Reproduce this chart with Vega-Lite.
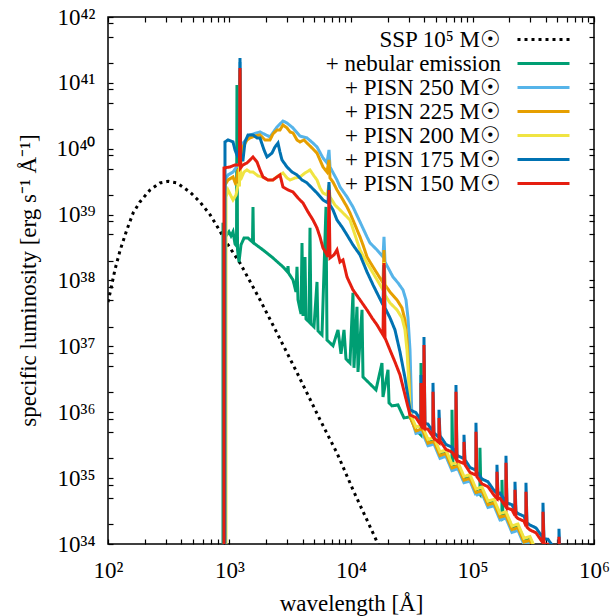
{
"$schema": "https://vega.github.io/schema/vega-lite/v6.json",
"autosize": {"type": "none"},
"padding": {"left": 108, "top": 17, "right": 21, "bottom": 72},
"width": 486,
"height": 527,
"background": "white",
"config": {
  "view": {"stroke": "black", "strokeWidth": 1.5},
  "font": "Liberation Serif",
  "axis": {"labelFont": "Liberation Serif", "labelFontSize": 23, "labelColor": "black", "titleFont": "Liberation Serif", "titleFontSize": 23, "titleFontWeight": "normal", "titleColor": "black", "grid": false, "domain": false, "ticks": true, "tickColor": "black", "tickWidth": 1.2, "tickOpacity": 1, "labelFlush": false, "labelOverlap": false, "labelBound": false},
  "line": {"strokeJoin": "miter", "strokeCap": "butt"}
},
"datasets": {
  "ssp": [{"x":100,"y":4.7e37},{"x":104,"y":6.5e37},{"x":114,"y":1.45e38},{"x":126,"y":2.9e38},{"x":143,"y":5.9e38},{"x":161,"y":1.06e39},{"x":183,"y":1.56e39},{"x":222,"y":2.37e39},{"x":268,"y":3.03e39},{"x":312,"y":3.2e39},{"x":370,"y":3.03e39},{"x":473,"y":2.2e39},{"x":571,"y":1.56e39},{"x":691,"y":1.0e39},{"x":804,"y":6.3e38},{"x":972,"y":3.47e38},{"x":1219,"y":1.85e38},{"x":1782,"y":5.1e37},{"x":2460,"y":1.6e37},{"x":3594,"y":4.0e36},{"x":5560,"y":7.7e35},{"x":7670,"y":2.4e35},{"x":10400,"y":6.6e34},{"x":16700,"y":1e34},{"x":20000,"y":5e33}],
  "neb": [{"x":884,"y":1e30},{"x":884,"y":7.5e38},{"x":935,"y":4.75e38},{"x":990,"y":5.5e38},{"x":1029,"y":4.75e38},{"x":1069,"y":5.5e38},{"x":1110,"y":3.59e38},{"x":1142,"y":3.35e38},{"x":1152,"y":9.3e40},{"x":1164,"y":2.91e38},{"x":1197,"y":1.91e38},{"x":1243,"y":3.47e38},{"x":1316,"y":4.4e38},{"x":1420,"y":4.4e38},{"x":1546,"y":3.85e38},{"x":1561,"y":1.31e39},{"x":1576,"y":3.72e38},{"x":1887,"y":2.91e38},{"x":2280,"y":2.2e38},{"x":2756,"y":1.61e38},{"x":3002,"y":1.35e38},{"x":3030,"y":1.66e38},{"x":3059,"y":1.3e38},{"x":3332,"y":1.02e38},{"x":3527,"y":6.7e37},{"x":3594,"y":1.61e38},{"x":3663,"y":5.08e37},{"x":3877,"y":3.11e37},{"x":3951,"y":3.72e38},{"x":4027,"y":2.9e37},{"x":4183,"y":2.28e38},{"x":4262,"y":2.61e37},{"x":4512,"y":2.35e37},{"x":4598,"y":6.3e38},{"x":4686,"y":2.19e37},{"x":4960,"y":1.98e37},{"x":5250,"y":9.5e37},{"x":5350,"y":1.72e37},{"x":5771,"y":1.49e37},{"x":6225,"y":1.31e39},{"x":6345,"y":1.25e37},{"x":6716,"y":1.13e37},{"x":7110,"y":1.02e37},{"x":7816,"y":1.78e37},{"x":8274,"y":7.7e36},{"x":8758,"y":1.78e37},{"x":9093,"y":6.46e36},{"x":9810,"y":5.6e36},{"x":10380,"y":6.5e37},{"x":10580,"y":4.72e36},{"x":11200,"y":4.0e37},{"x":11420,"y":4.1e36},{"x":12320,"y":3.58e37},{"x":12550,"y":3.44e36},{"x":13540,"y":2.99e36},{"x":16060,"y":2.19e36},{"x":17990,"y":5.6e36},{"x":18340,"y":1.71e36},{"x":20160,"y":4.4e36},{"x":20550,"y":1.39e36},{"x":21740,"y":1.25e36},{"x":24360,"y":1.29e36},{"x":27300,"y":8.2e35},{"x":30590,"y":8.5e35},{"x":34260,"y":5.4e35},{"x":37670,"y":4.5e35},{"x":37670,"y":5.6e36},{"x":38390,"y":5.6e35},{"x":43020,"y":3.52e35},{"x":48200,"y":3.64e35},{"x":54000,"y":2.3e35},{"x":60480,"y":2.38e35},{"x":67790,"y":1.51e35},{"x":67790,"y":1.09e36},{"x":69090,"y":1.45e35},{"x":75960,"y":1.56e35},{"x":85110,"y":9.9e34},{"x":95350,"y":1.02e35},{"x":106800,"y":6.5e34},{"x":115200,"y":5.6e34},{"x":115200,"y":2.88e35},{"x":117400,"y":5.4e34},{"x":119700,"y":6.7e34},{"x":134100,"y":4.2e34},{"x":150300,"y":4.4e34},{"x":168400,"y":2.77e34},{"x":174800,"y":2.58e34},{"x":174800,"y":9.4e34},{"x":178200,"y":2.5e34},{"x":188600,"y":2.86e34},{"x":211300,"y":1.82e34},{"x":236700,"y":1.88e34},{"x":265300,"y":1.19e34},{"x":297200,"y":1.23e34},{"x":333000,"y":7.8e33},{"x":373100,"y":8.1e33}],
  "p250": [{"x":918,"y":1e30},{"x":918,"y":3.36e39},{"x":972,"y":4.0e39},{"x":1069,"y":4.44e39},{"x":1175,"y":5.68e39},{"x":1208,"y":5.68e39},{"x":1220,"y":2.08e41},{"x":1232,"y":6.76e39},{"x":1291,"y":1.22e40},{"x":1475,"y":1.62e40},{"x":1782,"y":1.8e40},{"x":2154,"y":1.51e40},{"x":2460,"y":2.14e40},{"x":2756,"y":2.64e40},{"x":2973,"y":2.46e40},{"x":3331,"y":2.07e40},{"x":3804,"y":1.56e40},{"x":4344,"y":1.46e40},{"x":4867,"y":1.22e40},{"x":5250,"y":1.065e40},{"x":5883,"y":7.25e39},{"x":6345,"y":6.09e39},{"x":6590,"y":9.6e39},{"x":6716,"y":5.29e39},{"x":7669,"y":3.36e39},{"x":8117,"y":2.63e39},{"x":9268,"y":1.86e39},{"x":10380,"y":1.31e39},{"x":11860,"y":7.75e38},{"x":13540,"y":4.59e38},{"x":14330,"y":3.72e38},{"x":16370,"y":2.91e38},{"x":18340,"y":2.28e38},{"x":18690,"y":4.59e38},{"x":19050,"y":1.91e38},{"x":22160,"y":1.13e38},{"x":24360,"y":9.2e37},{"x":26780,"y":7.2e37},{"x":28350,"y":5.08e37},{"x":29440,"y":2.71e37},{"x":30590,"y":8.8e36},{"x":31170,"y":2.6e36},{"x":31760,"y":7.66e35},{"x":34260,"y":4.77e35},{"x":38390,"y":5.08e35},{"x":43020,"y":3.1e35},{"x":48200,"y":3.3e35},{"x":54000,"y":2.0e35},{"x":60480,"y":2.14e35},{"x":67790,"y":1.3e35},{"x":75960,"y":1.39e35},{"x":85110,"y":8.5e34},{"x":95350,"y":9.0e34},{"x":106800,"y":5.5e34},{"x":119700,"y":5.86e34},{"x":134100,"y":3.58e34},{"x":150300,"y":3.82e34},{"x":168400,"y":2.32e34},{"x":188600,"y":2.47e34},{"x":211300,"y":1.5e34},{"x":236700,"y":1.61e34},{"x":265300,"y":9.8e33},{"x":297200,"y":1.04e34},{"x":333000,"y":6.4e33},{"x":373100,"y":6.8e33}],
  "p225": [{"x":918,"y":1e30},{"x":918,"y":2.82e39},{"x":972,"y":3.36e39},{"x":1069,"y":3.73e39},{"x":1131,"y":2.82e39},{"x":1175,"y":4.77e39},{"x":1208,"y":4.77e39},{"x":1220,"y":1.57e41},{"x":1232,"y":5.68e39},{"x":1291,"y":1.065e40},{"x":1393,"y":1.36e40},{"x":1475,"y":1.46e40},{"x":1621,"y":1.56e40},{"x":1782,"y":1.62e40},{"x":1960,"y":1.36e40},{"x":2154,"y":1.36e40},{"x":2280,"y":1.68e40},{"x":2460,"y":1.93e40},{"x":2603,"y":1.93e40},{"x":2756,"y":2.3e40},{"x":2973,"y":2.07e40},{"x":3148,"y":1.8e40},{"x":3331,"y":1.74e40},{"x":3594,"y":1.36e40},{"x":3804,"y":1.27e40},{"x":4104,"y":1.36e40},{"x":4344,"y":1.22e40},{"x":4775,"y":1.03e40},{"x":5250,"y":8.6e39},{"x":5556,"y":6.76e39},{"x":5883,"y":5.29e39},{"x":6345,"y":4.44e39},{"x":6590,"y":6.76e39},{"x":6716,"y":3.6e39},{"x":7108,"y":3.13e39},{"x":7669,"y":2.37e39},{"x":8117,"y":1.99e39},{"x":8591,"y":1.67e39},{"x":9268,"y":1.31e39},{"x":9810,"y":1.06e39},{"x":10790,"y":6.98e38},{"x":11860,"y":4.59e38},{"x":12550,"y":3.47e38},{"x":13540,"y":2.28e38},{"x":14330,"y":1.91e38},{"x":15170,"y":1.61e38},{"x":16680,"y":1.22e38},{"x":18340,"y":9.2e37},{"x":18690,"y":2.91e38},{"x":19050,"y":8.6e37},{"x":20940,"y":6.7e37},{"x":23900,"y":5.08e37},{"x":26280,"y":3.84e37},{"x":27810,"y":2.52e37},{"x":28890,"y":1.25e37},{"x":30000,"y":3.69e36},{"x":30590,"y":8.6e35},{"x":34260,"y":5.2e35},{"x":38390,"y":5.6e35},{"x":43020,"y":3.4e35},{"x":48200,"y":3.6e35},{"x":54000,"y":2.2e35},{"x":60480,"y":2.36e35},{"x":67790,"y":1.43e35},{"x":75960,"y":1.53e35},{"x":85110,"y":9.3e34},{"x":95350,"y":9.9e34},{"x":106800,"y":6.05e34},{"x":119700,"y":6.4e34},{"x":134100,"y":3.94e34},{"x":150300,"y":4.2e34},{"x":168400,"y":2.55e34},{"x":188600,"y":2.72e34},{"x":211300,"y":1.65e34},{"x":236700,"y":1.77e34},{"x":265300,"y":1.07e34},{"x":297200,"y":1.14e34},{"x":333000,"y":7.0e33},{"x":373100,"y":7.4e33}],
  "p200": [{"x":936,"y":1e30},{"x":936,"y":1.86e39},{"x":972,"y":2.37e39},{"x":1069,"y":1.67e39},{"x":1131,"y":1.99e39},{"x":1175,"y":2.82e39},{"x":1208,"y":2.82e39},{"x":1220,"y":1.11e41},{"x":1232,"y":3.36e39},{"x":1316,"y":4.44e39},{"x":1393,"y":4.77e39},{"x":1475,"y":4.44e39},{"x":1561,"y":4.44e39},{"x":1716,"y":3.87e39},{"x":1887,"y":3.73e39},{"x":2074,"y":3.36e39},{"x":2280,"y":3.36e39},{"x":2506,"y":3.87e39},{"x":2756,"y":4.29e39},{"x":2973,"y":3.6e39},{"x":3148,"y":3.36e39},{"x":3459,"y":3.6e39},{"x":3804,"y":3.73e39},{"x":4182,"y":4.29e39},{"x":4598,"y":4.77e39},{"x":4960,"y":3.87e39},{"x":5250,"y":3.36e39},{"x":5556,"y":2.54e39},{"x":5883,"y":2.13e39},{"x":6345,"y":1.99e39},{"x":6590,"y":2.82e39},{"x":6716,"y":1.86e39},{"x":7383,"y":1.4e39},{"x":8117,"y":1.18e39},{"x":8924,"y":9.9e38},{"x":9810,"y":8.3e38},{"x":10790,"y":4.92e38},{"x":11860,"y":2.91e38},{"x":13540,"y":1.85e38},{"x":15170,"y":1.3e38},{"x":17320,"y":8.6e37},{"x":18340,"y":7.2e37},{"x":18690,"y":1.91e38},{"x":19050,"y":6.04e37},{"x":20940,"y":4.57e37},{"x":23900,"y":3.58e37},{"x":26280,"y":2.71e37},{"x":27810,"y":1.78e37},{"x":28890,"y":8.8e36},{"x":30000,"y":2.6e36},{"x":30590,"y":9.79e35},{"x":34260,"y":5.96e35},{"x":38390,"y":6.35e35},{"x":43020,"y":3.88e35},{"x":48200,"y":4.13e35},{"x":54000,"y":2.51e35},{"x":60480,"y":2.68e35},{"x":67790,"y":1.63e35},{"x":75960,"y":1.74e35},{"x":85110,"y":1.06e35},{"x":95350,"y":1.13e35},{"x":106800,"y":6.88e34},{"x":119700,"y":7.32e34},{"x":134100,"y":4.48e34},{"x":150300,"y":4.77e34},{"x":168400,"y":2.9e34},{"x":188600,"y":3.09e34},{"x":211300,"y":1.88e34},{"x":236700,"y":2.01e34},{"x":265300,"y":1.22e34},{"x":297200,"y":1.3e34},{"x":333000,"y":7.94e33},{"x":373100,"y":8.45e33}],
  "p175": [{"x":918,"y":1e30},{"x":918,"y":1.27e40},{"x":972,"y":1.36e40},{"x":1069,"y":1.27e40},{"x":1110,"y":9.6e39},{"x":1152,"y":8.05e39},{"x":1208,"y":9.6e39},{"x":1220,"y":2.39e41},{"x":1232,"y":6.76e39},{"x":1291,"y":6.76e39},{"x":1341,"y":1.27e40},{"x":1420,"y":1.62e40},{"x":1561,"y":1.62e40},{"x":1684,"y":1.46e40},{"x":1782,"y":1.46e40},{"x":1923,"y":9.6e39},{"x":2035,"y":7.5e39},{"x":2237,"y":8.6e39},{"x":2368,"y":1.065e40},{"x":2506,"y":1.22e40},{"x":2603,"y":8.9e39},{"x":2704,"y":6.76e39},{"x":2973,"y":5.29e39},{"x":3268,"y":4.44e39},{"x":3594,"y":4.0e39},{"x":3951,"y":3.36e39},{"x":4344,"y":3.03e39},{"x":4775,"y":2.54e39},{"x":5250,"y":2.13e39},{"x":5883,"y":1.67e39},{"x":6467,"y":1.5e39},{"x":6590,"y":3.13e39},{"x":6716,"y":1.4e39},{"x":7108,"y":1.18e39},{"x":7669,"y":8.3e38},{"x":8430,"y":6.51e38},{"x":9268,"y":4.92e38},{"x":10380,"y":3.47e38},{"x":11860,"y":2.45e38},{"x":13540,"y":1.35e38},{"x":15170,"y":8.6e37},{"x":16680,"y":6.04e37},{"x":18340,"y":4.26e37},{"x":18690,"y":1.72e38},{"x":19050,"y":3.84e37},{"x":20940,"y":2.71e37},{"x":23010,"y":1.78e37},{"x":25310,"y":8.25e36},{"x":27810,"y":3.33e36},{"x":30590,"y":1.09e36},{"x":34260,"y":9.86e35},{"x":37670,"y":7.5e35},{"x":37670,"y":3.69e36},{"x":38390,"y":7.27e35},{"x":39870,"y":6.81e35},{"x":39870,"y":1.39e37},{"x":40630,"y":6.8e35},{"x":43020,"y":6.6e35},{"x":47300,"y":5.02e35},{"x":47300,"y":2.79e36},{"x":48200,"y":4.87e35},{"x":52990,"y":4.12e35},{"x":52990,"y":1.09e36},{"x":54000,"y":4.41e35},{"x":60480,"y":3.24e35},{"x":67790,"y":2.95e35},{"x":73110,"y":2.32e35},{"x":73110,"y":2.6e36},{"x":74500,"y":2.3e35},{"x":75960,"y":2.17e35},{"x":85110,"y":1.98e35},{"x":85110,"y":4.54e35},{"x":86730,"y":1.9e35},{"x":95350,"y":1.45e35},{"x":106800,"y":1.32e35},{"x":106800,"y":6.9e35},{"x":108800,"y":1.25e35},{"x":119700,"y":9.7e34},{"x":134100,"y":8.8e34},{"x":150300,"y":6.5e34},{"x":159000,"y":5.88e34},{"x":159000,"y":1.59e35},{"x":162000,"y":5.7e34},{"x":168400,"y":5.9e34},{"x":188600,"y":4.34e34},{"x":188600,"y":2.18e35},{"x":192200,"y":4.2e34},{"x":211300,"y":3.95e34},{"x":223700,"y":3.21e34},{"x":223700,"y":8.78e34},{"x":228000,"y":3.1e34},{"x":236700,"y":2.9e34},{"x":265300,"y":2.64e34},{"x":275500,"y":2.22e34},{"x":275500,"y":8.48e34},{"x":280800,"y":2.1e34},{"x":297200,"y":1.94e34},{"x":333000,"y":1.76e34},{"x":373100,"y":1.3e34},{"x":380300,"y":1.25e34},{"x":380300,"y":4.22e34},{"x":387500,"y":1.2e34},{"x":418000,"y":1.18e34},{"x":468500,"y":8.7e33},{"x":514900,"y":7.35e33},{"x":514900,"y":1.7e34},{"x":524800,"y":7.1e33}],
  "p150": [{"x":901,"y":1e30},{"x":901,"y":5.11e39},{"x":1009,"y":5.29e39},{"x":1110,"y":5.68e39},{"x":1208,"y":5.68e39},{"x":1220,"y":1.68e41},{"x":1232,"y":5.11e39},{"x":1291,"y":5.68e39},{"x":1393,"y":6.09e39},{"x":1475,"y":6.76e39},{"x":1561,"y":7.5e39},{"x":1684,"y":6.3e39},{"x":1782,"y":4.77e39},{"x":1887,"y":3.73e39},{"x":2074,"y":3.36e39},{"x":2280,"y":3.36e39},{"x":2460,"y":3.73e39},{"x":2603,"y":4.0e39},{"x":2756,"y":2.63e39},{"x":3030,"y":2.37e39},{"x":3331,"y":2.21e39},{"x":3662,"y":1.79e39},{"x":4027,"y":1.5e39},{"x":4426,"y":1.1e39},{"x":4867,"y":8.3e38},{"x":5250,"y":6.28e38},{"x":5556,"y":4.59e38},{"x":5883,"y":3.12e38},{"x":6226,"y":2.62e38},{"x":6467,"y":2.28e38},{"x":6590,"y":2.37e39},{"x":6716,"y":2.2e38},{"x":7244,"y":2.45e38},{"x":7669,"y":2.91e38},{"x":8117,"y":1.91e38},{"x":8591,"y":2.05e38},{"x":9268,"y":1.13e38},{"x":10380,"y":7.2e37},{"x":11860,"y":5.08e37},{"x":13540,"y":3.58e37},{"x":14890,"y":2.71e37},{"x":16370,"y":2.12e37},{"x":18340,"y":1.49e37},{"x":18690,"y":1.85e38},{"x":19050,"y":1.35e37},{"x":20940,"y":8.8e36},{"x":23010,"y":5.8e36},{"x":25310,"y":3.69e36},{"x":27810,"y":1.84e36},{"x":30590,"y":9.1e35},{"x":34260,"y":8.28e35},{"x":37670,"y":6.3e35},{"x":37670,"y":2.79e36},{"x":38390,"y":6.11e35},{"x":39870,"y":5.71e35},{"x":39870,"y":1.05e37},{"x":40630,"y":5.6e35},{"x":43020,"y":5.54e35},{"x":47300,"y":4.22e35},{"x":47300,"y":2.04e36},{"x":48200,"y":4.09e35},{"x":52990,"y":3.46e35},{"x":52990,"y":8.2e35},{"x":54000,"y":3.7e35},{"x":60480,"y":2.73e35},{"x":67790,"y":2.48e35},{"x":73110,"y":1.95e35},{"x":73110,"y":2.04e36},{"x":74500,"y":1.9e35},{"x":75960,"y":1.82e35},{"x":85110,"y":1.66e35},{"x":85110,"y":3.55e35},{"x":86730,"y":1.6e35},{"x":95350,"y":1.22e35},{"x":106800,"y":1.11e35},{"x":106800,"y":5.04e35},{"x":108800,"y":1.05e35},{"x":119700,"y":8.2e34},{"x":134100,"y":7.4e34},{"x":150300,"y":5.5e34},{"x":159000,"y":4.93e34},{"x":159000,"y":1.25e35},{"x":162000,"y":4.8e34},{"x":168400,"y":4.95e34},{"x":188600,"y":3.64e34},{"x":188600,"y":1.71e35},{"x":192200,"y":3.5e34},{"x":211300,"y":3.31e34},{"x":223700,"y":2.7e34},{"x":223700,"y":6.64e34},{"x":228000,"y":2.6e34},{"x":236700,"y":2.44e34},{"x":265300,"y":2.22e34},{"x":275500,"y":1.86e34},{"x":275500,"y":6.19e34},{"x":280800,"y":1.8e34},{"x":297200,"y":1.63e34},{"x":333000,"y":1.48e34},{"x":373100,"y":1.09e34},{"x":380300,"y":1.05e34},{"x":380300,"y":3.08e34},{"x":387500,"y":1.0e34},{"x":418000,"y":9.9e33},{"x":468500,"y":7.3e33},{"x":514900,"y":6.17e33},{"x":514900,"y":1.29e34},{"x":524800,"y":5.96e33}],
  "frame": [{"x":100,"y":1e34},{"x":1000000,"y":1e42}]
},
"layer": [
  {
    "encoding": {
      "x": {"field": "x", "type": "quantitative", "scale": {"type": "log", "domain": [100, 1000000]},
        "axis": {"orient": "bottom", "tickSize": -5, "labelPadding": 20, "title": "wavelength [Å]", "titleX": 243, "titleY": 59, "titleBaseline": "middle", "titleAlign": "center",
          "values": [100,200,300,400,500,600,700,800,900,1000,2000,3000,4000,5000,6000,7000,8000,9000,10000,20000,30000,40000,50000,60000,70000,80000,90000,100000,200000,300000,400000,500000,600000,700000,800000,900000,1000000],
          "labelExpr": "abs(log(datum.value)/LN10 - round(log(datum.value)/LN10)) < 0.001 ? '10' + ['⁰','¹','²','³','⁴','⁵','⁶','⁷','⁸','⁹'][round(log(datum.value)/LN10)] : ''",
          "encode": {"ticks": {"update": {"y2": {"signal": "abs(log(datum.value)/LN10 - round(log(datum.value)/LN10)) < 0.001 ? -9 : -5"}}}}}},
      "y": {"field": "y", "type": "quantitative", "scale": {"type": "log", "domain": [1e34, 1e42]},
        "axis": {"orient": "left", "tickSize": -5, "labelPadding": 18, "title": "specific luminosity [erg s⁻¹ Å⁻¹]", "titleX": -80, "titleY": 263, "titleAngle": -90, "titleAlign": "center", "titleBaseline": "middle",
          "values": [1e34,2e34,5e34,8e34,1e35,2e35,5e35,8e35,1e36,2e36,5e36,8e36,1e37,2e37,5e37,8e37,1e38,2e38,5e38,8e38,1e39,2e39,5e39,8e39,1e40,2e40,5e40,8e40,1e41,2e41,5e41,8e41,1e42],
          "labelExpr": "abs(log(datum.value)/LN10 - round(log(datum.value)/LN10)) < 0.001 ? '10' + ['⁰','¹','²','³','⁴','⁵','⁶','⁷','⁸','⁹'][floor(round(log(datum.value)/LN10)/10)] + ['⁰','¹','²','³','⁴','⁵','⁶','⁷','⁸','⁹'][round(log(datum.value)/LN10)%10] : ''",
          "encode": {"ticks": {"update": {"x2": {"signal": "abs(log(datum.value)/LN10 - round(log(datum.value)/LN10)) < 0.001 ? 9 : 5"}}}}}},
      "order": {"value": null}
    },
    "layer": [
      {"data": {"name": "ssp"}, "mark": {"type": "line", "clip": true, "strokeWidth": 3},
       "encoding": {"color": {"datum": "SSP 10⁵ M☉", "type": "nominal",
         "scale": {"domain": ["SSP 10⁵ M☉", "+ nebular emission", "+ PISN 250 M☉", "+ PISN 225 M☉", "+ PISN 200 M☉", "+ PISN 175 M☉", "+ PISN 150 M☉"], "range": ["#000000", "#009e73", "#56b4e9", "#e69f00", "#f0e442", "#0072b2", "#e51e10"]},
         "legend": {"title": null, "orient": "none", "legendX": 424, "legendY": 11, "padding": 0, "symbolType": "M-4,0H4", "symbolSize": 169, "symbolStrokeWidth": 3, "labelAlign": "right", "labelOffset": -54, "labelFont": "Liberation Serif", "labelFontSize": 23, "labelColor": "black", "labelLimit": 0, "rowPadding": 0}},
         "strokeDash": {"datum": "SSP 10⁵ M☉", "type": "nominal",
         "scale": {"domain": ["SSP 10⁵ M☉", "+ nebular emission", "+ PISN 250 M☉", "+ PISN 225 M☉", "+ PISN 200 M☉", "+ PISN 175 M☉", "+ PISN 150 M☉"], "range": [[3,4],[1,0],[1,0],[1,0],[1,0],[1,0],[1,0]]},
         "legend": {"title": null, "orient": "none", "legendX": 424, "legendY": 11, "padding": 0, "symbolType": "M-4,0H4", "symbolSize": 169, "symbolStrokeWidth": 3, "labelAlign": "right", "labelOffset": -54, "labelFont": "Liberation Serif", "labelFontSize": 23, "labelColor": "black", "labelLimit": 0, "rowPadding": 0}}}},
      {"data": {"name": "neb"}, "mark": {"type": "line", "clip": true, "strokeWidth": 3}, "encoding": {"color": {"datum": "+ nebular emission", "type": "nominal"}, "strokeDash": {"datum": "+ nebular emission", "type": "nominal"}}},
      {"data": {"name": "p250"}, "mark": {"type": "line", "clip": true, "strokeWidth": 3}, "encoding": {"color": {"datum": "+ PISN 250 M☉", "type": "nominal"}, "strokeDash": {"datum": "+ PISN 250 M☉", "type": "nominal"}}},
      {"data": {"name": "p225"}, "mark": {"type": "line", "clip": true, "strokeWidth": 3}, "encoding": {"color": {"datum": "+ PISN 225 M☉", "type": "nominal"}, "strokeDash": {"datum": "+ PISN 225 M☉", "type": "nominal"}}},
      {"data": {"name": "p200"}, "mark": {"type": "line", "clip": true, "strokeWidth": 3}, "encoding": {"color": {"datum": "+ PISN 200 M☉", "type": "nominal"}, "strokeDash": {"datum": "+ PISN 200 M☉", "type": "nominal"}}},
      {"data": {"name": "p175"}, "mark": {"type": "line", "clip": true, "strokeWidth": 3}, "encoding": {"color": {"datum": "+ PISN 175 M☉", "type": "nominal"}, "strokeDash": {"datum": "+ PISN 175 M☉", "type": "nominal"}}},
      {"data": {"name": "p150"}, "mark": {"type": "line", "clip": true, "strokeWidth": 3}, "encoding": {"color": {"datum": "+ PISN 150 M☉", "type": "nominal"}, "strokeDash": {"datum": "+ PISN 150 M☉", "type": "nominal"}}}
    ]
  },
  {
    "data": {"name": "frame"},
    "mark": {"type": "point", "opacity": 0},
    "encoding": {
      "x": {"field": "x", "type": "quantitative", "scale": {"type": "log", "domain": [100, 1000000]},
        "axis": {"orient": "top", "title": null, "labels": false, "tickSize": -5,
          "values": [100,200,300,400,500,600,700,800,900,1000,2000,3000,4000,5000,6000,7000,8000,9000,10000,20000,30000,40000,50000,60000,70000,80000,90000,100000,200000,300000,400000,500000,600000,700000,800000,900000,1000000],
          "encode": {"ticks": {"update": {"y2": {"signal": "abs(log(datum.value)/LN10 - round(log(datum.value)/LN10)) < 0.001 ? 9 : 5"}}}}}},
      "y": {"field": "y", "type": "quantitative", "scale": {"type": "log", "domain": [1e34, 1e42]},
        "axis": {"orient": "right", "title": null, "labels": false, "tickSize": -5,
          "values": [1e34,2e34,5e34,8e34,1e35,2e35,5e35,8e35,1e36,2e36,5e36,8e36,1e37,2e37,5e37,8e37,1e38,2e38,5e38,8e38,1e39,2e39,5e39,8e39,1e40,2e40,5e40,8e40,1e41,2e41,5e41,8e41,1e42],
          "encode": {"ticks": {"update": {"x2": {"signal": "abs(log(datum.value)/LN10 - round(log(datum.value)/LN10)) < 0.001 ? -9 : -5"}}}}}}
    }
  }
],
"resolve": {"axis": {"x": "independent", "y": "independent"}}
}
